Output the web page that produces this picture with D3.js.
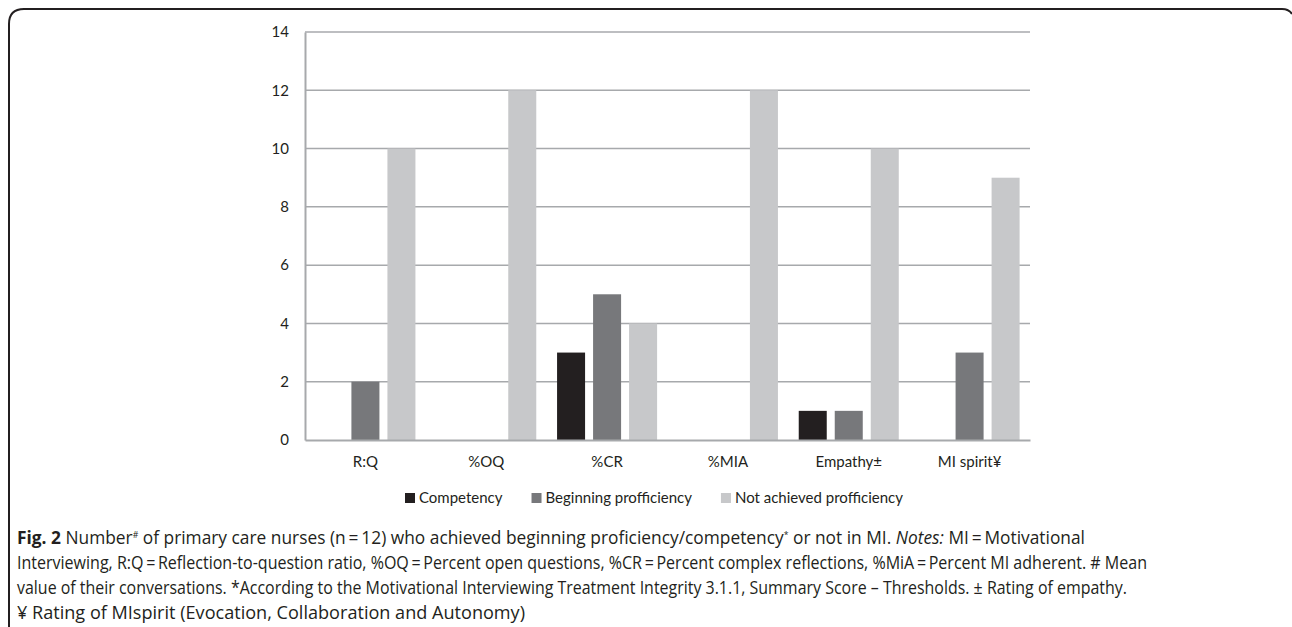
<!DOCTYPE html>
<html>
<head>
<meta charset="utf-8">
<script src="https://cdn.jsdelivr.net/npm/d3@7"></script>
<style>
  body { margin: 0; background: #fff; }
  svg { display: block; }
</style>
</head>
<body>
<svg id="svg"></svg>
<script>
var w = 1292, h = 627;

// data
var categories = ["R:Q", "%OQ", "%CR", "%MIA", "Empathy\u00b1", "MI spirit\u00a5"];
var seriesNames = ["Competency", "Beginning profficiency", "Not achieved profficiency"];
var competency = [0, 0, 3, 0, 1, 0];
var beginning = [2, 0, 5, 0, 1, 3];
var notAchieved = [10, 12, 4, 12, 10, 9];
var yTicks = [0, 2, 4, 6, 8, 10, 12, 14];
var colors = ["#231f20", "#77787b", "#c7c8ca"];

var captionLines = [
  [["b", "Fig. 2"], ["n", " Number"], ["sup", "#"], ["n", " of primary care nurses (n\u2009=\u200912) who achieved beginning proficiency/competency"], ["sup", "*"], ["n", " or not in MI. "], ["i", "Notes:"], ["n", " MI\u2009=\u2009Motivational"]],
  [["n", "Interviewing, R:Q\u2009=\u2009Reflection-to-question ratio, %OQ\u2009=\u2009Percent open questions, %CR\u2009=\u2009Percent complex reflections, %MiA\u2009=\u2009Percent MI adherent. # Mean"]],
  [["n", "value of their conversations. *According to the Motivational Interviewing Treatment Integrity 3.1.1, Summary Score \u2013 Thresholds. \u00b1 Rating of empathy."]],
  [["n", "\u00a5 Rating of MIspirit (Evocation, Collaboration and Autonomy)"]]
];
// widths of the caption lines in the figure
var captionWidths = [1068, 1130, 1110, 508];

var series = [competency, beginning, notAchieved];

var svg = d3.select("#svg")
    .attr("width", w)
    .attr("height", h)

// frame with rounded top corners, cut by the page edges
svg.append("path")
    .attr("d", "M9,640 L9,24 Q9,9 24,9 L1282,9 Q1289,9 1292,14")
    .attr("fill", "none")
    .attr("stroke", "#231f20")
    .attr("stroke-width", 2)

var chartFont = "Lato, 'Open Sans', sans-serif";
var chartSize = "15px";

var y = d3.scaleLinear().domain([0, 14]).range([440, 32]);
var x0 = d3.scaleBand().domain(categories).range([305, 1030]).padding(0);
var x1 = d3.scaleBand().domain(d3.range(3))
    .range([10.4, x0.bandwidth() - 10.4])
    .paddingInner(8 / 36).paddingOuter(0);

var plot = svg.append("g")

// gridlines
plot.selectAll("line.grid")
    .data(yTicks.filter(function(d){return d > 0;}))
    .enter().append("line")
    .attr("class", "grid")
    .attr("x1", 305).attr("x2", 1030)
    .attr("y1", function(d){return y(d);})
    .attr("y2", function(d){return y(d);})
    .attr("stroke", "#a7a9ac")
    .attr("stroke-width", 1.5)

// y axis
var yAxis = d3.axisLeft(y).tickValues(yTicks).tickSize(0).tickPadding(16);
var gy = plot.append("g")
    .attr("transform", "translate(305,0)")
    .call(yAxis)
gy.select(".domain").attr("stroke", "#a7a9ac").attr("stroke-width", 2)
gy.selectAll("text")
    .style("font-family", chartFont)
    .style("font-size", chartSize)
    .attr("fill", "#231f20")

// bars
var groups = plot.selectAll("g.cat")
    .data(categories)
    .enter().append("g")
    .attr("class", "cat")
    .attr("transform", function(d){return "translate(" + x0(d) + ",0)";})

groups.selectAll("rect")
    .data(function(d, i){return series.map(function(s, k){return {k: k, v: s[i]};});})
    .enter().append("rect")
    .attr("x", function(d){return x1(d.k);})
    .attr("width", x1.bandwidth())
    .attr("y", function(d){return y(d.v);})
    .attr("height", function(d){return y(0) - y(d.v);})
    .attr("fill", function(d){return colors[d.k];})

// x axis
var xAxis = d3.axisBottom(x0).tickSize(0).tickPadding(16);
var gx = plot.append("g")
    .attr("transform", "translate(0," + y(0) + ")")
    .call(xAxis)
gx.select(".domain").attr("stroke", "#a7a9ac").attr("stroke-width", 2)
gx.selectAll("text")
    .style("font-family", chartFont)
    .style("font-size", chartSize)
    .attr("fill", "#231f20")

// legend
var legend = svg.append("g")
var lx = 405;
seriesNames.forEach(function(name, k){
    legend.append("rect")
        .attr("x", lx).attr("y", 493)
        .attr("width", 10).attr("height", 10)
        .attr("fill", colors[k])
    var t = legend.append("text")
        .attr("x", lx + 14).attr("y", 503)
        .style("font-family", chartFont)
        .style("font-size", chartSize)
        .attr("fill", "#231f20")
        .text(name)
    lx += 14 + t.node().getComputedTextLength() + 29;
});

// caption
var capFont = "'Open Sans', sans-serif";
var cap = svg.append("g")
captionLines.forEach(function(parts, li){
    var t = cap.append("text")
        .attr("x", 17).attr("y", 544 + li * 25)
        .attr("textLength", captionWidths[li])
        .attr("lengthAdjust", "spacingAndGlyphs")
        .style("font-family", capFont)
        .style("font-size", "18px")
        .attr("fill", "#231f20")
    var up = false;
    parts.forEach(function(p){
        var s = t.append("tspan").text(p[1]);
        if (up) { s.attr("dy", 6); up = false; }
        if (p[0] == "b") s.style("font-weight", "bold");
        if (p[0] == "i") s.style("font-style", "italic");
        if (p[0] == "sup") { s.attr("dy", -6).style("font-size", "9px"); up = true; }
    });
});
</script>
</body>
</html>
